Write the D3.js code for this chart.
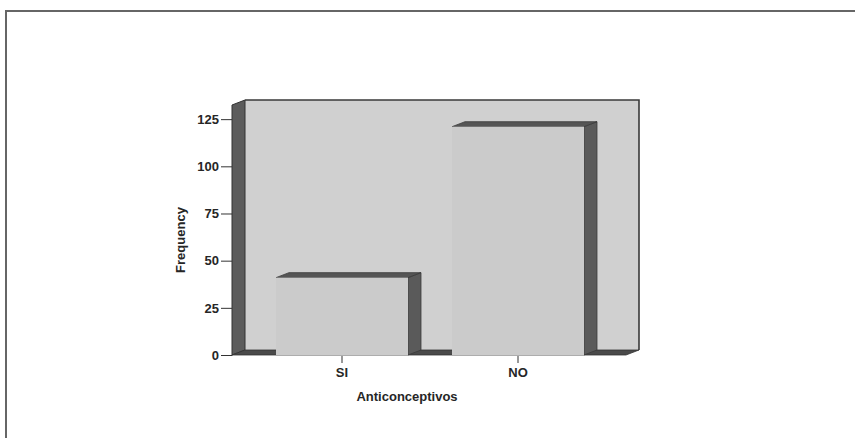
<!DOCTYPE html>
<html>
<head>
<meta charset="utf-8">
<script src="https://cdn.jsdelivr.net/npm/d3@7"></script>
<style>
  html, body { margin: 0; padding: 0; background: #fff; }
  svg { display: block; }
  text { font-family: "Liberation Sans", Arial, sans-serif; fill: #262626; font-weight: bold; }
</style>
</head>
<body>
<svg id="chart" width="855" height="438"></svg>
<script>
// Frequency of contraceptive use
const categories = ["SI", "NO"];
const frequencies = [41, 121];
const yTicks = [0, 25, 50, 75, 100, 125];
const yTitle = "Frequency";
const xTitle = "Anticonceptivos";

const svg = d3.select("#chart");
const fontSize = "13px";

// outer frame
svg.append("path")
  .attr("d", "M6,438 L6,11 L855,11")
  .attr("fill", "none")
  .attr("stroke", "#666")
  .attr("stroke-width", 2);

// plot geometry (front plane) and depth offset for the 3-D look
const x0 = 232, x1 = 626, yBase = 355, yTop = 105;
const dx = 13, dy = -5;

const y = d3.scaleLinear().domain([0, 132.5]).range([yBase, yTop]);
const x = d3.scaleBand().domain(categories).range([x0, x1 + 2])
  .paddingInner(0.25).paddingOuter(0.25);

const poly = pts => "M" + pts.map(p => p.join(",")).join("L") + "Z";

// back wall
svg.append("rect")
  .attr("x", x0 + dx).attr("y", yTop + dy)
  .attr("width", x1 - x0).attr("height", yBase - yTop)
  .attr("fill", "#d0d0d0");
svg.append("path")
  .attr("d", `M${x0 + dx},${yTop + dy} L${x1 + dx},${yTop + dy} L${x1 + dx},${yBase + dy}`)
  .attr("fill", "none").attr("stroke", "#3a3a3a").attr("stroke-width", 1.6);

// left side wall
svg.append("path")
  .attr("d", poly([[x0, yBase], [x0, yTop], [x0 + dx, yTop + dy], [x0 + dx, yBase + dy]]))
  .attr("fill", "#5c5c5c").attr("stroke", "#333").attr("stroke-width", 1);

// floor
svg.append("path")
  .attr("d", poly([[x0, yBase], [x1, yBase], [x1 + dx, yBase + dy], [x0 + dx, yBase + dy]]))
  .attr("fill", "#4a4a4a").attr("stroke", "#333").attr("stroke-width", 0.8);

// bars
const bars = svg.append("g").selectAll("g")
  .data(categories.map((c, i) => ({ c, v: frequencies[i] })))
  .join("g");

bars.append("path") // right side
  .attr("d", d => {
    const xr = x(d.c) + x.bandwidth(), yt = y(d.v);
    return poly([[xr, yBase], [xr, yt], [xr + dx, yt + dy], [xr + dx, yBase + dy]]);
  })
  .attr("fill", "#5a5a5a").attr("stroke", "#3a3a3a").attr("stroke-width", 0.8);

bars.append("path") // top
  .attr("d", d => {
    const xl = x(d.c), xr = xl + x.bandwidth(), yt = y(d.v);
    return poly([[xl, yt], [xr, yt], [xr + dx, yt + dy], [xl + dx, yt + dy]]);
  })
  .attr("fill", "#555").attr("stroke", "#3a3a3a").attr("stroke-width", 0.8);

bars.append("rect") // front
  .attr("x", d => x(d.c)).attr("y", d => y(d.v))
  .attr("width", x.bandwidth()).attr("height", d => yBase - y(d.v))
  .attr("fill", "#cbcbcb");

// y axis
const yAxis = svg.append("g")
  .attr("transform", `translate(${x0},0)`)
  .call(d3.axisLeft(y).tickValues(yTicks).tickSize(11).tickPadding(2));
yAxis.select(".domain").remove();
yAxis.selectAll(".tick line").attr("stroke", "#333");
yAxis.selectAll("text").style("font-size", fontSize).attr("fill", "#262626")
  .style("font-family", "'Liberation Sans', Arial, sans-serif").style("font-weight", "bold");

// x axis
const xAxis = svg.append("g")
  .attr("transform", `translate(0,${yBase + 1})`)
  .call(d3.axisBottom(x).tickSize(7).tickPadding(5));
xAxis.select(".domain").remove();
xAxis.selectAll(".tick line").attr("stroke", "#333");
xAxis.selectAll("text").style("font-size", fontSize).attr("fill", "#262626")
  .style("font-family", "'Liberation Sans', Arial, sans-serif").style("font-weight", "bold");

// axis titles
svg.append("text")
  .attr("transform", "translate(185,240) rotate(-90)")
  .attr("text-anchor", "middle")
  .style("font-size", fontSize)
  .text(yTitle);

svg.append("text")
  .attr("x", 407).attr("y", 401)
  .attr("text-anchor", "middle")
  .style("font-size", fontSize)
  .text(xTitle);
</script>
</body>
</html>
